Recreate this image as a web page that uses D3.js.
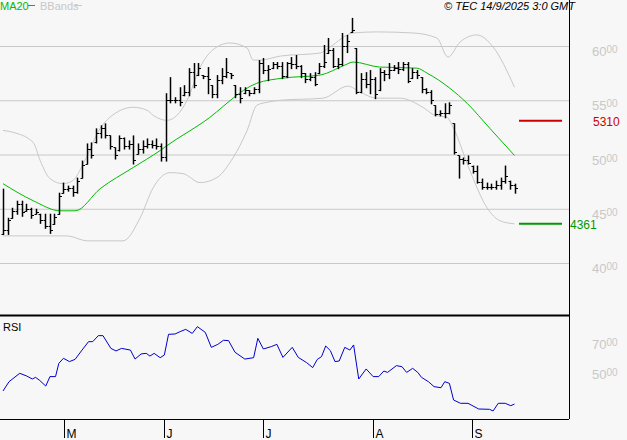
<!DOCTYPE html>
<html><head><meta charset="utf-8">
<script src="https://cdn.jsdelivr.net/npm/d3@7"></script>
<style>body{margin:0;background:#f7f7f7}svg{display:block;font-family:"Liberation Sans",Arial,sans-serif}</style>
</head><body><svg id="c" width="627" height="440"></svg>
<script>
const highs=[4685,4417,4509,4574,4574,4546,4509,4500,4454,4454,4454,4454,4648,4741,4713,4713,4787,4944,5102,5111,5241,5269,5287,5176,5065,5176,5157,5130,5176,5102,5130,5148,5130,5148,5102,
5565,5713,5528,5620,5639,5796,5843,5843,5732,5806,5639,5732,5796,5889,5750,5639,5620,5620,5593,5620,5870,5889,5824,5852,5852,5852,5852,5898,5917,5824,5750,5750,5759,5843,6009,6074,5981,5889,6120,6102,6259,
5981,5750,5759,5778,5713,5796,5778,5843,5824,5852,5852,5852,5796,5778,5713,5611,5593,5454,5407,5472,5481,5287,4991,4972,4991,4898,4898,4778,4741,4731,4759,4787,4898,4759,4731];
const lows=[4268,4268,4417,4454,4435,4481,4417,4454,4370,4324,4278,4361,4454,4648,4667,4620,4648,4787,4917,4972,5111,5157,5157,5055,4963,5037,5055,5055,4917,5009,5018,5065,5065,5055,4944,
4944,5481,5481,5454,5546,5546,5620,5732,5704,5565,5528,5528,5657,5713,5704,5528,5481,5565,5546,5565,5574,5750,5685,5796,5796,5704,5713,5796,5796,5713,5667,5685,5639,5750,5806,5935,5806,5796,5824,5944,6130,
5565,5574,5620,5565,5519,5593,5685,5704,5778,5750,5778,5667,5704,5704,5574,5565,5472,5361,5361,5343,5380,5009,4787,4917,4917,4833,4741,4685,4685,4685,4685,4685,4741,4685,4648];
const closes=[4300,4400,4480,4540,4470,4500,4440,4470,4400,4340,4300,4420,4620,4680,4690,4650,4760,4900,5050,5000,5200,5240,5180,5080,5000,5150,5080,5100,4950,5050,5080,5100,5090,5080,4980,
5500,5500,5500,5480,5580,5760,5640,5800,5720,5700,5560,5690,5720,5760,5730,5560,5520,5590,5570,5600,5840,5780,5790,5830,5820,5720,5840,5830,5820,5750,5700,5710,5650,5820,5850,5960,5820,5830,6000,6050,6150,
5580,5700,5650,5700,5560,5760,5740,5780,5800,5790,5830,5680,5760,5730,5600,5580,5500,5370,5380,5380,5460,5020,4960,4950,4920,4850,4750,4700,4700,4700,4720,4760,4800,4720,4690];
const ma20=[[0,4731],[6.5,4574],[12.3,4481],[15.5,4481],[20.9,4685],[28,4880],[33.8,5037],[35.3,5083],[43,5296],[54.6,5657],[60.2,5704],[68.2,5732],[73.5,5824],[75.3,5852],[81,5806],[89,5796],[91.2,5750],[96.1,5611],[99.8,5472],[104.7,5241],[110,4991]];
const bbUpper=[[0,5222],[2.2,5204],[6.5,5111],[8,4944],[10.1,4778],[12.9,4731],[15,4759],[17.6,4944],[20.9,5241],[23,5343],[28,5435],[31,5407],[32.3,5361],[35.3,5315],[39.6,5500],[42.4,5806],[46,5991],[48.8,6028],[52.5,5981],[53.8,5870],[55.3,5870],[59.6,5907],[68.2,5935],[70.3,5991],[75.3,6120],[80.4,6130],[88.2,6120],[93.3,6074],[95.7,5898],[98.3,6037],[101.9,6102],[105.4,5991],[110,5620]];
const bbLower=[[0,4250],[13.8,4250],[18.1,4204],[25.8,4204],[29.5,4417],[32.3,4694],[35.9,4833],[38.7,4824],[42.4,4741],[46,4787],[49.5,4972],[52.5,5222],[54.6,5454],[56.8,5481],[59.6,5500],[68.8,5519],[74.2,5630],[76.8,5574],[80.4,5519],[85.4,5519],[90.3,5435],[92.9,5361],[95.5,5343],[96.8,5250],[100.4,4852],[104.1,4509],[106.9,4389],[110,4361]];
const rsi=[[0,38.0],[1.3,44.2],[3.6,49.8],[5.1,48.0],[6.3,46.0],[7.0,47.1],[7.8,45.3],[9.2,41.3],[10.1,47.6],[11.3,47.6],[12.0,56.4],[13.0,59.8],[14.3,57.6],[15.5,59.1],[17.0,65.3],[18.4,70.9],[19.3,70.9],[20.5,74.9],[21.5,74.9],[23.2,66.4],[24.3,64.7],[25.5,66.4],[27.4,65.3],[28.4,59.3],[29.7,62.7],[30.8,63.1],[31.6,61.3],[32.5,63.1],[33.8,60.2],[34.7,62.0],[35.6,75.8],[37.0,76.0],[38.1,77.6],[39.3,79.1],[40.7,76.4],[41.8,80.9],[43.5,77.1],[44.8,67.1],[46.2,69.1],[47.4,71.8],[48.5,71.6],[49.9,63.8],[52.0,59.3],[53.9,60.2],[54.8,73.1],[56.0,66.0],[57.7,67.6],[58.9,69.1],[60.2,60.4],[62.2,67.1],[63.5,60.4],[65.3,56.9],[66.6,53.6],[67.6,59.1],[68.5,60.9],[69.4,68.0],[70.4,64.9],[71.4,57.6],[72.3,58.0],[73.5,67.1],[74.6,65.3],[75.4,68.7],[76.5,46.0],[78.1,52.7],[79.6,47.6],[80.8,47.6],[81.9,51.3],[82.7,50.4],[84.6,54.9],[85.8,54.2],[86.8,50.4],[88.1,53.1],[89.2,50.4],[90.0,47.1],[91.5,44.2],[92.7,40.9],[94.2,40.2],[95.0,44.2],[96.0,43.1],[96.9,32.0],[98.4,29.8],[100.0,29.8],[102.3,26.0],[104.6,25.8],[105.4,24.7],[106.5,29.8],[108.0,29.8],[109.2,28.2],[110.0,29.3]];
const priceTicks=[4000,4500,5000,5500,6000];
const rsiTicks=[50,70];
const months=[["M",13.1],["J",34.6],["J",56],["A",79.6],["S",100.9]];
const levels=[{v:5310,c:"#cc0000",lab:"5310"},{v:4361,c:"#009900",lab:"4361"}];

const svg=d3.select("#c");
const W=569;
const x=d3.scaleLinear().domain([0,110]).range([3,514.5]);
const y=d3.scaleLinear().domain([4000,6000]).range([263,46]);
const yr=d3.scaleLinear().domain([50,70]).range([373,343]);
svg.append("rect").attr("width",627).attr("height",440).attr("fill","#f7f7f7");
priceTicks.forEach(t=>{
 svg.append("line").attr("x1",0).attr("x2",W).attr("y1",y(t)+0.5).attr("y2",y(t)+0.5).attr("stroke","#c8c8c8");
 const tx=svg.append("text").attr("x",592).attr("y",y(t)+10).attr("fill","#c8c8c8").attr("font-size",13);
 tx.append("tspan").text(String(t).slice(0,2));
 tx.append("tspan").attr("font-size",10).attr("dy",-3).text("00");
});
rsiTicks.forEach(t=>{
 const tx=svg.append("text").attr("x",592).attr("y",yr(t)+6).attr("fill","#c8c8c8").attr("font-size",13);
 tx.append("tspan").text(String(t));
 tx.append("tspan").attr("font-size",10).attr("dy",-3).text("00");
});
const line=d3.line().x(d=>x(d[0])).y(d=>y(d[1])).curve(d3.curveMonotoneX);
svg.append("path").attr("d",line(bbUpper)).attr("fill","none").attr("stroke","#c8c8c8");
svg.append("path").attr("d",line(bbLower)).attr("fill","none").attr("stroke","#c8c8c8");
svg.append("path").attr("d",line(ma20)).attr("fill","none").attr("stroke","#00bb00");
closes.forEach((c,i)=>{
 const xi=Math.round(x(i))+0.5;
 const o=i?Math.max(lows[i],Math.min(highs[i],closes[i-1])):lows[i];
 svg.append("line").attr("x1",xi).attr("x2",xi).attr("y1",y(highs[i])).attr("y2",y(lows[i])+1).attr("stroke","#000").attr("stroke-width",1.5);
 svg.append("line").attr("x1",xi-2).attr("x2",xi).attr("y1",Math.round(y(o))+0.5).attr("y2",Math.round(y(o))+0.5).attr("stroke","#000");
 svg.append("line").attr("x1",xi).attr("x2",xi+2.5).attr("y1",Math.round(y(c))+0.5).attr("y2",Math.round(y(c))+0.5).attr("stroke","#000");
});
levels.forEach(l=>{
 svg.append("line").attr("x1",519).attr("x2",562).attr("y1",y(l.v)).attr("y2",y(l.v)).attr("stroke",l.c).attr("stroke-width",2);
});
svg.append("text").attr("x",593).attr("y",y(5310)+5).attr("fill","#cc0000").attr("font-size",12).text(levels[0].lab);
svg.append("text").attr("x",570).attr("y",y(4361)+5).attr("fill","#009900").attr("font-size",12).text(levels[1].lab);
const rl=d3.line().x(d=>x(d[0])).y(d=>yr(d[1]));
svg.append("path").attr("d",rl(rsi)).attr("fill","none").attr("stroke","#0000cc");
svg.append("text").attr("x",3).attr("y",331).attr("font-size",11).attr("fill","#000").text("RSI");
svg.append("line").attr("x1",W+0.5).attr("x2",W+0.5).attr("y1",0).attr("y2",419).attr("stroke","#000");
svg.append("line").attr("x1",0).attr("x2",W).attr("y1",315.5).attr("y2",315.5).attr("stroke","#000").attr("stroke-width",2);
svg.append("line").attr("x1",0).attr("x2",W).attr("y1",419.5).attr("y2",419.5).attr("stroke","#000");
months.forEach(m=>{
 const xm=Math.round(x(m[1]))+0.5;
 svg.append("line").attr("x1",xm).attr("x2",xm).attr("y1",420).attr("y2",438).attr("stroke","#000");
 svg.append("text").attr("x",xm+2).attr("y",438).attr("font-size",12).text(m[0]);
});
svg.append("text").attr("x",0).attr("y",10).attr("font-size",11).attr("fill","#00bb00").text("MA20");
svg.append("line").attr("x1",28).attr("x2",35).attr("y1",5.5).attr("y2",5.5).attr("stroke","#00bb00");
svg.append("text").attr("x",40).attr("y",10).attr("font-size",11).attr("fill","#c8c8c8").text("BBands");
svg.append("line").attr("x1",75).attr("x2",82).attr("y1",5.5).attr("y2",5.5).attr("stroke","#c8c8c8");
svg.append("text").attr("x",575).attr("y",10).attr("text-anchor","end").attr("font-size",11).attr("font-style","italic").text("© TEC 14/9/2025 3:0 GMT");
</script></body></html>
